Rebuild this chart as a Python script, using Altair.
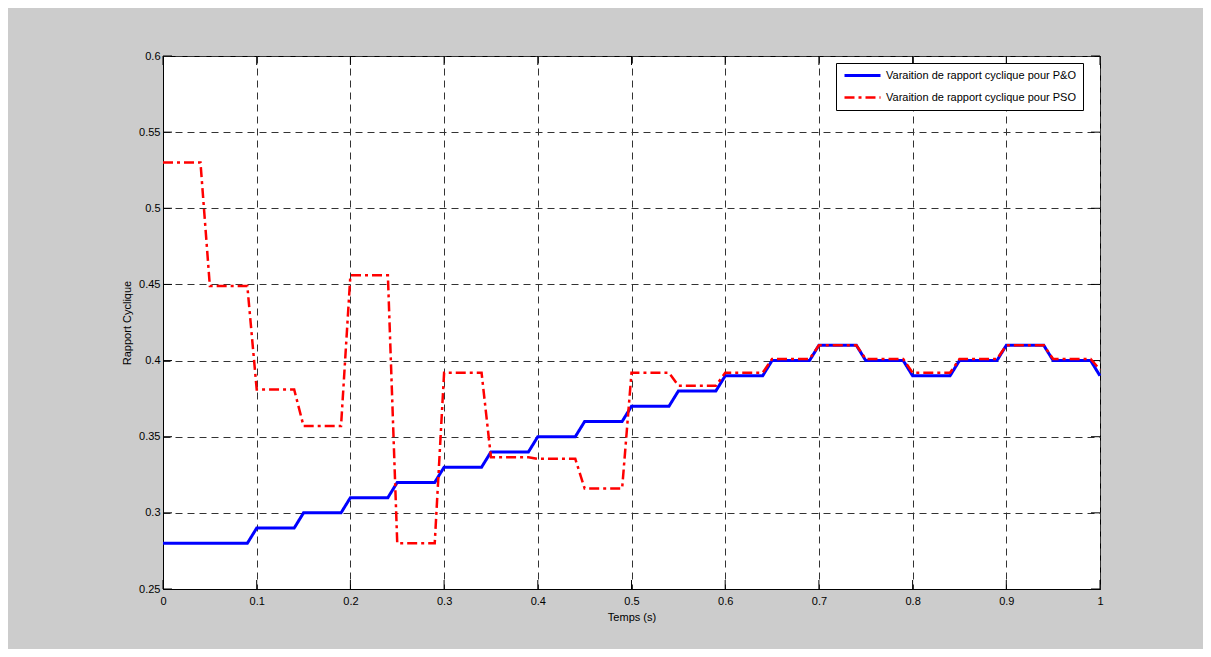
import altair as alt
import pandas as pd

# ---- data ----
series_names = ["Varaition de rapport cyclique pour P&O", "Varaition de rapport cyclique pour PSO"]

po_t = [0, 0.09, 0.1, 0.14, 0.15, 0.19, 0.2, 0.24, 0.25, 0.29, 0.3, 0.34, 0.35, 0.39, 0.4,
        0.44, 0.45, 0.49, 0.5, 0.54, 0.55, 0.59, 0.6, 0.64, 0.65, 0.69, 0.7, 0.74, 0.75,
        0.79, 0.8, 0.84, 0.85, 0.89, 0.9, 0.94, 0.95, 0.99, 1.0]
po_v = [0.28, 0.28, 0.29, 0.29, 0.30, 0.30, 0.31, 0.31, 0.32, 0.32, 0.33, 0.33, 0.34, 0.34, 0.35,
        0.35, 0.36, 0.36, 0.37, 0.37, 0.38, 0.38, 0.39, 0.39, 0.40, 0.40, 0.41, 0.41, 0.40,
        0.40, 0.39, 0.39, 0.40, 0.40, 0.41, 0.41, 0.40, 0.40, 0.39]

pso_t = [0, 0.04, 0.05, 0.09, 0.1, 0.14, 0.15, 0.19, 0.2, 0.24, 0.25, 0.29, 0.3, 0.34, 0.35,
         0.39, 0.40, 0.44, 0.45, 0.49, 0.5, 0.54, 0.55, 0.59, 0.6, 0.64, 0.65, 0.69, 0.7,
         0.74, 0.75, 0.79, 0.8, 0.84, 0.85, 0.89, 0.9, 0.94, 0.95, 0.99, 1.0]
pso_v = [0.530, 0.530, 0.449, 0.449, 0.381, 0.381, 0.357, 0.357, 0.456, 0.456, 0.280, 0.280,
         0.392, 0.392, 0.3365, 0.3365, 0.3355, 0.3355, 0.316, 0.316, 0.392, 0.392, 0.3835,
         0.3835, 0.392, 0.392, 0.401, 0.401, 0.410, 0.410, 0.401, 0.401, 0.392, 0.392, 0.401,
         0.401, 0.410, 0.410, 0.401, 0.401, 0.394]

x_ticks = [0, 0.1, 0.2, 0.3, 0.4, 0.5, 0.6, 0.7, 0.8, 0.9, 1.0]
y_ticks = [0.25, 0.3, 0.35, 0.4, 0.45, 0.5, 0.55, 0.6]

# ---- build tables ----
lines_df = pd.concat([
    pd.DataFrame({"t": po_t, "v": po_v, "serie": series_names[0], "ord": range(len(po_t))}),
    pd.DataFrame({"t": pso_t, "v": pso_v, "serie": series_names[1], "ord": range(len(pso_t))}),
], ignore_index=True)
xt_df = pd.DataFrame({"t": x_ticks})
yt_df = pd.DataFrame({"v": y_ticks})

W, H = 937, 533
FONT = "Liberation Sans"

x_axis = alt.Axis(values=x_ticks, format="~g", title="Temps (s)", grid=True,
                  gridDash=[7, 5], gridColor="#333333", gridWidth=1, tickSize=0,
                  domainColor="black", labelFont=FONT, labelFontSize=11, labelColor="black",
                  labelPadding=6, labelFlush=False, labelOverlap=False,
                  titleFont=FONT, titleFontSize=11, titleFontWeight="normal",
                  titleColor="black", titlePadding=5)
y_axis = alt.Axis(values=y_ticks, format="~g", title="Rapport Cyclique", grid=True,
                  gridDash=[7, 5], gridColor="#333333", gridWidth=1, tickSize=0,
                  domainColor="black", labelFont=FONT, labelFontSize=11, labelColor="black",
                  labelPadding=3, labelFlush=False, labelOverlap=False,
                  titleFont=FONT, titleFontSize=11, titleFontWeight="normal",
                  titleColor="black", titlePadding=6)

x_enc = alt.X("t:Q", scale=alt.Scale(domain=[0, 1], nice=False, zero=False), axis=x_axis)
y_enc = alt.Y("v:Q", scale=alt.Scale(domain=[0.25, 0.6], nice=False, zero=False), axis=y_axis)

legend = alt.Legend(title=None, orient="none", legendX=673, legendY=7,
                    fillColor="white", strokeColor="black", padding=7,
                    symbolType="stroke", symbolSize=1296, clipHeight=11, rowPadding=10,
                    labelFont=FONT, labelFontSize=11, labelColor="black", labelOffset=4,
                    labelLimit=400)

lines = alt.Chart(lines_df).mark_line(strokeCap="butt", strokeJoin="miter").encode(
    x=x_enc,
    y=y_enc,
    color=alt.Color("serie:N", scale=alt.Scale(domain=series_names, range=["#0000FF", "#FF0000"]),
                    legend=legend),
    strokeDash=alt.StrokeDash("serie:N", scale=alt.Scale(domain=series_names,
                                                         range=[[1, 0], [10, 4, 3, 4]]),
                              legend=legend),
    strokeWidth=alt.StrokeWidth("serie:N", scale=alt.Scale(domain=series_names, range=[3, 2.5]),
                                legend=legend),
    order="ord:Q",
)

xt_bottom = alt.Chart(xt_df).mark_rule(color="black", strokeWidth=1).encode(
    x=x_enc, y=alt.value(H), y2=alt.value(H - 9))
xt_top = alt.Chart(xt_df).mark_rule(color="black", strokeWidth=1).encode(
    x=x_enc, y=alt.value(0), y2=alt.value(9))
yt_left = alt.Chart(yt_df).mark_rule(color="black", strokeWidth=1).encode(
    y=y_enc, x=alt.value(0), x2=alt.value(9))
yt_right = alt.Chart(yt_df).mark_rule(color="black", strokeWidth=1).encode(
    y=y_enc, x=alt.value(W), x2=alt.value(W - 9))

chart = alt.layer(xt_bottom, xt_top, yt_left, yt_right, lines).properties(
    width=W, height=H,
    padding={"left": 155, "top": 48, "right": 103, "bottom": 60},
    autosize=alt.AutoSizeParams(type="none"),
).configure(background="#CCCCCC").configure_view(fill="white", stroke="black", strokeWidth=1)

chart.save("out.html", embed_options={"renderer": "svg", "actions": False})
